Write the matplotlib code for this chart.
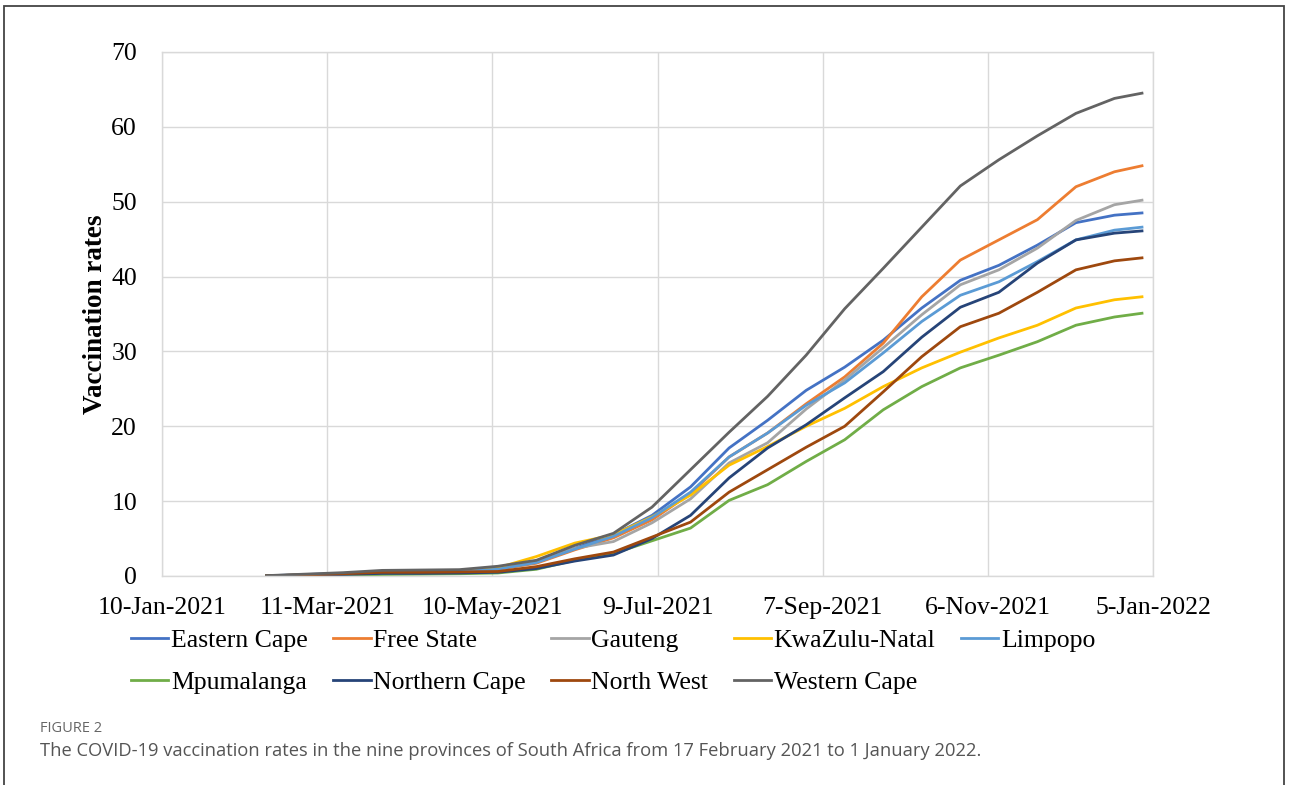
from datetime import date, timedelta

import matplotlib
matplotlib.use("Agg")
from matplotlib import pyplot as plt
from matplotlib.patches import Rectangle

# sample dates (every two weeks, last one 1 Jan 2022)
dates = ["2021-02-17", "2021-03-03", "2021-03-17", "2021-03-31", "2021-04-14",
         "2021-04-28", "2021-05-12", "2021-05-26", "2021-06-09", "2021-06-23",
         "2021-07-07", "2021-07-21", "2021-08-04", "2021-08-18", "2021-09-01",
         "2021-09-15", "2021-09-29", "2021-10-13", "2021-10-27", "2021-11-10",
         "2021-11-24", "2021-12-08", "2021-12-22", "2022-01-01"]

eastern_cape = [0.03, 0.2, 0.35, 0.55, 0.6, 0.65, 1.0, 1.9, 3.7, 5.5, 8.1, 11.9,
                17.1, 20.8, 24.8, 27.9, 31.5, 35.8, 39.5, 41.5, 44.2, 47.2, 48.2, 48.5]
free_state = [0.02, 0.15, 0.3, 0.5, 0.55, 0.6, 0.9, 1.7, 3.5, 5.1, 7.5, 11.0,
              15.9, 19.1, 23.0, 26.6, 31.1, 37.3, 42.2, 44.9, 47.6, 52.0, 54.0, 54.8]
gauteng = [0.02, 0.15, 0.3, 0.5, 0.55, 0.6, 1.0, 1.9, 3.7, 4.6, 7.1, 10.3,
           15.1, 17.8, 22.3, 26.2, 30.5, 34.9, 38.9, 40.9, 43.8, 47.5, 49.6, 50.2]
kwazulu_natal = [0.02, 0.15, 0.3, 0.5, 0.55, 0.65, 1.1, 2.6, 4.4, 5.5, 7.9, 10.8,
                 14.8, 17.3, 20.0, 22.4, 25.3, 27.8, 29.9, 31.8, 33.5, 35.8, 36.9, 37.3]
limpopo = [0.02, 0.15, 0.3, 0.5, 0.55, 0.6, 0.9, 1.8, 3.6, 5.3, 7.8, 11.2,
           15.9, 19.1, 22.8, 25.8, 29.8, 34.0, 37.5, 39.3, 42.0, 44.9, 46.2, 46.6]
mpumalanga = [0.01, 0.05, 0.1, 0.2, 0.25, 0.3, 0.4, 0.9, 2.1, 3.0, 4.7, 6.4,
              10.1, 12.2, 15.3, 18.2, 22.2, 25.3, 27.8, 29.5, 31.3, 33.5, 34.6, 35.1]
northern_cape = [0.02, 0.1, 0.2, 0.35, 0.35, 0.4, 0.5, 1.0, 2.0, 2.8, 5.0, 8.1,
                 13.1, 17.1, 20.2, 23.8, 27.3, 31.9, 35.9, 37.9, 41.8, 44.9, 45.8, 46.1]
north_west = [0.02, 0.15, 0.3, 0.5, 0.5, 0.55, 0.6, 1.25, 2.3, 3.2, 5.2, 7.2,
              11.2, 14.2, 17.2, 20.0, 24.6, 29.3, 33.3, 35.1, 37.9, 40.9, 42.1, 42.5]
western_cape = [0.05, 0.25, 0.45, 0.75, 0.8, 0.85, 1.3, 2.1, 4.1, 5.7, 9.2, 14.2,
                19.2, 24.0, 29.5, 35.7, 41.1, 46.6, 52.1, 55.6, 58.8, 61.8, 63.8, 64.5]

series = [
    ("Eastern Cape", eastern_cape, "#4472C4"),
    ("Free State", free_state, "#ED7D31"),
    ("Gauteng", gauteng, "#A5A5A5"),
    ("KwaZulu-Natal", kwazulu_natal, "#FFC000"),
    ("Limpopo", limpopo, "#5B9BD5"),
    ("Mpumalanga", mpumalanga, "#70AD47"),
    ("Northern Cape", northern_cape, "#264478"),
    ("North West", north_west, "#9E480E"),
    ("Western Cape", western_cape, "#636363"),
]

x = [date.fromisoformat(d) for d in dates]
start = date(2021, 1, 10)
ticks = [start + timedelta(days=60 * i) for i in range(7)]
tick_labels = [f"{t.day}-{t.strftime('%b-%Y')}" for t in ticks]

serif = "Liberation Serif"
fs = 18.5

fig = plt.figure(figsize=(12.9, 7.85), dpi=100)
ax = fig.add_axes([162 / 1290, 1 - 576 / 785, (1153 - 162) / 1290, (576 - 52) / 785])

handles = {}
for name, vals, color in series:
    (ln,) = ax.plot(x, vals, color=color, lw=2.0, label=name, solid_joinstyle="round")
    handles[name] = ln

ax.set_xlim(ticks[0], ticks[-1])
ax.set_ylim(0, 70)
ax.set_xticks(ticks)
ax.set_xticklabels(tick_labels)
ax.set_yticks(range(0, 71, 10))
ax.grid(True, color="#d9d9d9", lw=1.0)
ax.set_axisbelow(True)
for s in ax.spines.values():
    s.set_color("#d9d9d9")
    s.set_linewidth(1.0)
ax.tick_params(length=0, labelsize=fs)
ax.tick_params(axis="x", pad=15)
ax.tick_params(axis="y", pad=18)
for lab in ax.get_xticklabels() + ax.get_yticklabels():
    lab.set_fontfamily(serif)
ax.set_ylabel("Vaccination rates", fontsize=19.5, fontweight="bold",
              fontfamily=serif, labelpad=2)

# legend row by row: reorder for column-major filling
order = ["Eastern Cape", "Mpumalanga", "Free State", "Northern Cape", "Gauteng",
         "North West", "KwaZulu-Natal", "Western Cape", "Limpopo"]
fig.legend([handles[n] for n in order], order, loc="upper left",
           bbox_to_anchor=(131 / 1290, 1 - 629 / 785), ncol=5, frameon=False,
           prop={"family": serif, "size": fs}, handlelength=1.45,
           handletextpad=0.1, columnspacing=1.0, labelspacing=0.75,
           borderaxespad=0, borderpad=0)

fig.text(40 / 1290, 1 - 728 / 785, "FIGURE 2", fontsize=10.5, color="#666666",
         fontfamily="Open Sans", va="center")
fig.text(40 / 1290, 1 - 751 / 785,
         "The COVID-19 vaccination rates in the nine provinces of South Africa "
         "from 17 February 2021 to 1 January 2022.",
         fontsize=13.2, color="#555555", fontfamily="Open Sans", va="center")

fig.patches.append(Rectangle((4 / 1290, -0.02), 1280 / 1290, 1.02 - 6 / 785,
                             transform=fig.transFigure, fill=False,
                             edgecolor="#444444", lw=1.3))

fig.savefig("out.png", dpi=100)
